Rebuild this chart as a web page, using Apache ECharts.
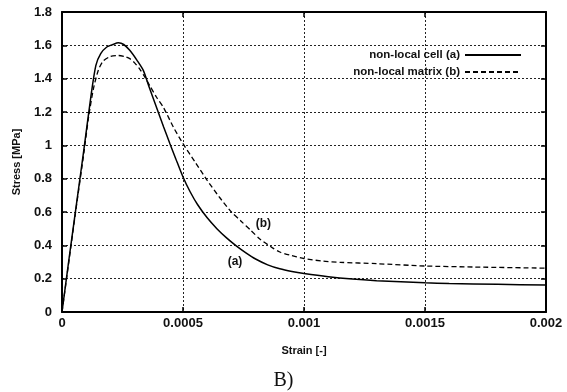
<!DOCTYPE html>
<html>
<head>
<meta charset="utf-8">
<script src="https://cdn.jsdelivr.net/npm/echarts@6/dist/echarts.min.js"></script>
<style>html,body{margin:0;padding:0;background:#fff}#c{width:567px;height:392px}</style>
</head>
<body>
<div id="c"></div>
<script>
var strainA = [0, 0.00003, 0.00006, 0.00009, 0.00012, 0.00014, 0.00016, 0.000185, 0.00021, 0.000233, 0.000255, 0.00028, 0.00031, 0.000336, 0.00036, 0.00039, 0.00042, 0.000446, 0.00047, 0.0005, 0.00053, 0.00056, 0.0006, 0.00064, 0.00068, 0.00072, 0.00076, 0.0008, 0.00085, 0.0009, 0.00095, 0.001, 0.0011, 0.0012, 0.0013, 0.0014, 0.0015, 0.0016, 0.0018, 0.002];
var stressA = [0, 0.33, 0.65, 0.97, 1.30, 1.48, 1.55, 1.59, 1.605, 1.615, 1.605, 1.57, 1.51, 1.45, 1.35, 1.23, 1.11, 1.01, 0.92, 0.81, 0.72, 0.645, 0.565, 0.50, 0.445, 0.397, 0.355, 0.318, 0.283, 0.259, 0.243, 0.231, 0.212, 0.198, 0.188, 0.181, 0.175, 0.171, 0.166, 0.162];
var strainB = [0, 0.00003, 0.00006, 0.00009, 0.00011, 0.00013, 0.00015, 0.00017, 0.0002, 0.000233, 0.00026, 0.00028, 0.0003, 0.00032, 0.00034, 0.000364, 0.00039, 0.00042, 0.00046, 0.0005, 0.00055, 0.0006, 0.00065, 0.0007, 0.00074, 0.00078, 0.00082, 0.00087, 0.0009, 0.00094, 0.001, 0.00108, 0.00115, 0.0013, 0.0015, 0.0017, 0.002];
var stressB = [0, 0.32, 0.64, 0.95, 1.17, 1.34, 1.45, 1.505, 1.533, 1.539, 1.532, 1.52, 1.495, 1.46, 1.415, 1.355, 1.29, 1.225, 1.11, 1.01, 0.90, 0.79, 0.69, 0.60, 0.545, 0.49, 0.435, 0.385, 0.36, 0.342, 0.321, 0.305, 0.298, 0.29, 0.276, 0.27, 0.263];
var seriesNames = ['non-local cell (a)', 'non-local matrix (b)'];
var curveLabels = ['(a)', '(b)'];
var labelPosA = [0.000715, 0.30];
var labelPosB = [0.000832, 0.531];
var xTicks = ['0', '0.0005', '0.001', '0.0015', '0.002'];

function pairs(xs, ys) { return xs.map(function (x, i) { return [x, ys[i]]; }); }

var font = 'Liberation Sans, Arial, sans-serif';
var chart = echarts.init(document.getElementById('c'), null, { renderer: 'canvas' });
var tickStyle = { show: true, inside: true, length: 5, lineStyle: { color: '#000', width: 1.5 } };
var splitStyle = { show: true, lineStyle: { color: '#222', width: 1, type: [2, 2] } };
var lineAxis = { show: true, onZero: false, lineStyle: { color: '#000', width: 2 } };

chart.setOption({
  animation: false,
  backgroundColor: '#fff',
  title: {
    text: 'B)', left: 'center', top: 366,
    textStyle: { fontFamily: 'Liberation Serif, Times New Roman, serif', fontSize: 20, fontWeight: 'normal', color: '#111' }
  },
  grid: { left: 62, right: 21, top: 12, bottom: 80, show: false },
  legend: {
    orient: 'vertical', right: 40, top: 44, align: 'right',
    itemWidth: 56, itemHeight: 10, itemGap: 5,
    itemStyle: { opacity: 0 },
    textStyle: { fontFamily: font, fontSize: 11.5, fontWeight: 'bold', color: '#111' },
    data: seriesNames
  },
  xAxis: [{
    type: 'value', min: 0, max: 0.002, interval: 0.0005,
    name: 'Strain [-]', nameLocation: 'middle', nameGap: 33,
    nameTextStyle: { fontFamily: font, fontSize: 11, fontWeight: 'bold', color: '#111' },
    axisLine: lineAxis, axisTick: tickStyle, splitLine: splitStyle,
    axisLabel: { margin: 5, fontFamily: font, fontSize: 13, fontWeight: 'bold', color: '#111',
      formatter: function (v) { var i = Math.round(v / 0.0005); return xTicks[i]; } }
  }, {
    type: 'value', position: 'top', min: 0, max: 0.002, interval: 0.0005,
    axisLine: lineAxis, axisTick: tickStyle, splitLine: { show: false }, axisLabel: { show: false }
  }],
  yAxis: [{
    type: 'value', min: 0, max: 1.8, interval: 0.2,
    name: 'Stress [MPa]', nameLocation: 'middle', nameGap: 40,
    nameTextStyle: { fontFamily: font, fontSize: 11, fontWeight: 'bold', color: '#111' },
    axisLine: lineAxis, axisTick: tickStyle, splitLine: splitStyle,
    axisLabel: { margin: 10, fontFamily: font, fontSize: 13, fontWeight: 'bold', color: '#111',
      formatter: function (v) { return String(Math.round(v * 10) / 10); } }
  }, {
    type: 'value', position: 'right', min: 0, max: 1.8, interval: 0.2,
    axisLine: lineAxis, axisTick: tickStyle, splitLine: { show: false }, axisLabel: { show: false }
  }],
  series: [{
    name: seriesNames[0], type: 'line', xAxisIndex: 0, yAxisIndex: 0,
    data: pairs(strainA, stressA), showSymbol: false, symbol: 'none', smooth: 0.25,
    lineStyle: { color: '#000', width: 1.5, type: 'solid' }, itemStyle: { color: '#000' },
    markPoint: { symbol: 'circle', symbolSize: 1, itemStyle: { color: 'rgba(0,0,0,0)' },
      label: { show: true, position: 'inside', formatter: curveLabels[0], fontFamily: font, fontSize: 12, fontWeight: 'bold', color: '#111' },
      data: [{ coord: labelPosA }] }
  }, {
    name: seriesNames[1], type: 'line', xAxisIndex: 0, yAxisIndex: 0,
    data: pairs(strainB, stressB), showSymbol: false, symbol: 'none', smooth: 0.25,
    lineStyle: { color: '#000', width: 1.3, type: [5, 3] }, itemStyle: { color: '#000' },
    markPoint: { symbol: 'circle', symbolSize: 1, itemStyle: { color: 'rgba(0,0,0,0)' },
      label: { show: true, position: 'inside', formatter: curveLabels[1], fontFamily: font, fontSize: 12, fontWeight: 'bold', color: '#111' },
      data: [{ coord: labelPosB }] }
  }]
});
</script>
</body>
</html>
